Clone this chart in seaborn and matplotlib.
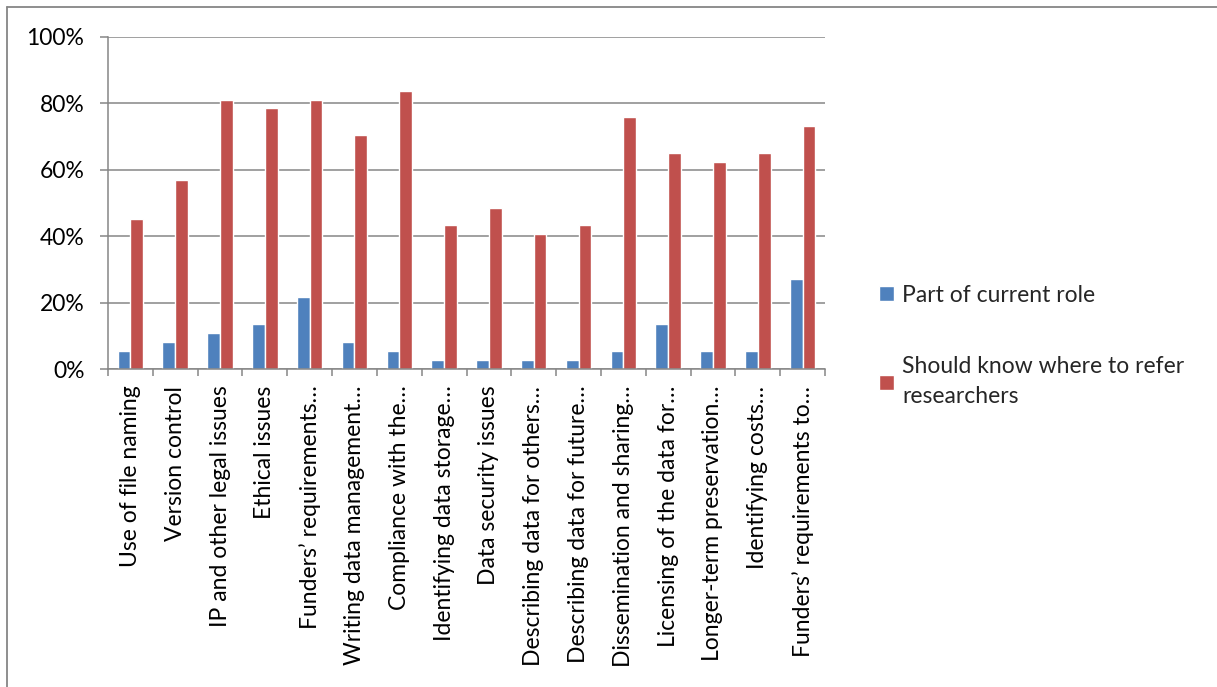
import matplotlib
matplotlib.use("Agg")
import matplotlib.pyplot as plt
from matplotlib.lines import Line2D
from matplotlib.ticker import FixedLocator, PercentFormatter
import numpy as np
import pandas as pd
import seaborn as sns

topics = [
    "Use of file naming",
    "Version control",
    "IP and other legal issues",
    "Ethical issues",
    "Funders\u2019 requirements\u2026",
    "Writing data management\u2026",
    "Compliance with the\u2026",
    "Identifying data storage\u2026",
    "Data security issues",
    "Describing data for others\u2026",
    "Describing data for future\u2026",
    "Dissemination and sharing\u2026",
    "Licensing of the data for\u2026",
    "Longer-term preservation\u2026",
    "Identifying costs\u2026",
    "Funders\u2019 requirements to\u2026",
]
part_of_role = [5.4, 8.1, 10.8, 13.5, 21.6, 8.1, 5.4, 2.7,
                2.7, 2.7, 2.7, 5.4, 13.5, 5.4, 5.4, 27.0]
should_refer = [45.0, 56.8, 81.1, 78.4, 81.1, 70.3, 83.8, 43.2,
                48.6, 40.5, 43.2, 75.7, 64.9, 62.2, 64.9, 73.0]
series_names = ["Part of current role", "Should know where to refer\nresearchers"]
series_colors = ["#4F81BD", "#C0504D"]
y_ticks = [0, 20, 40, 60, 80, 100]

df = pd.DataFrame({
    "topic": topics * 2,
    "series": [series_names[0]] * len(topics) + [series_names[1]] * len(topics),
    "value": part_of_role + should_refer,
})

sns.set_theme(style="white")
plt.rcParams["font.family"] = ["Lato", "DejaVu Sans"]
FS = 16.5

W, H = 1217, 687
fig = plt.figure(figsize=(W / 100, H / 100), dpi=100)
ax = fig.add_axes([108 / W, 1 - 369 / H, (825 - 108) / W, (369 - 36.7) / H])

sns.barplot(data=df, x="topic", y="value", hue="series", order=topics,
            hue_order=series_names, palette=series_colors, width=0.57,
            saturation=1, ax=ax, legend=True)

grid_col = "#868686"
ax.set_ylim(0, 100)
ax.set_xlim(-0.5, len(topics) - 0.5)
ax.yaxis.set_major_locator(FixedLocator(y_ticks))
ax.yaxis.set_major_formatter(PercentFormatter(decimals=0))
ax.grid(axis="y", color=grid_col, linewidth=1.1)
ax.set_axisbelow(True)
for side in ("top", "right"):
    ax.spines[side].set_visible(False)
for side in ("left", "bottom"):
    ax.spines[side].set_color(grid_col)
    ax.spines[side].set_linewidth(1.1)

ax.set_xlabel("")
ax.set_ylabel("")
ax.tick_params(axis="y", which="major", left=True, length=6, width=1.1,
               color=grid_col, labelsize=FS, pad=11, labelcolor="black")
ax.tick_params(axis="x", which="major", bottom=False, length=0,
               labelsize=FS, pad=12, labelcolor="black")
ax.set_xticks(np.arange(len(topics)))
ax.set_xticklabels(topics, rotation=90, ha="center", va="top")
ax.set_xticks(np.arange(len(topics) + 1) - 0.5, minor=True)
ax.tick_params(axis="x", which="minor", bottom=True, length=5, width=1.1,
               color=grid_col)

handles, labels = ax.get_legend_handles_labels()
ax.legend_.remove()
leg = fig.legend(handles, labels, loc="center left",
                 bbox_to_anchor=(868 / W, 1 - 346 / H), frameon=False,
                 fontsize=FS, handlelength=0.65, handleheight=0.65,
                 handletextpad=0.35, labelspacing=2.2, borderpad=0)
for t in leg.get_texts():
    t.set_linespacing(1.55)

# outer chart frame
fig.add_artist(Line2D([6.5 / W, 6.5 / W], [0, 1 - 7 / H], transform=fig.transFigure,
                      color=grid_col, linewidth=1.3))
fig.add_artist(Line2D([6.5 / W, 1], [1 - 7 / H, 1 - 7 / H], transform=fig.transFigure,
                      color=grid_col, linewidth=1.3))

fig.savefig("out.png", dpi=100, facecolor="white")
